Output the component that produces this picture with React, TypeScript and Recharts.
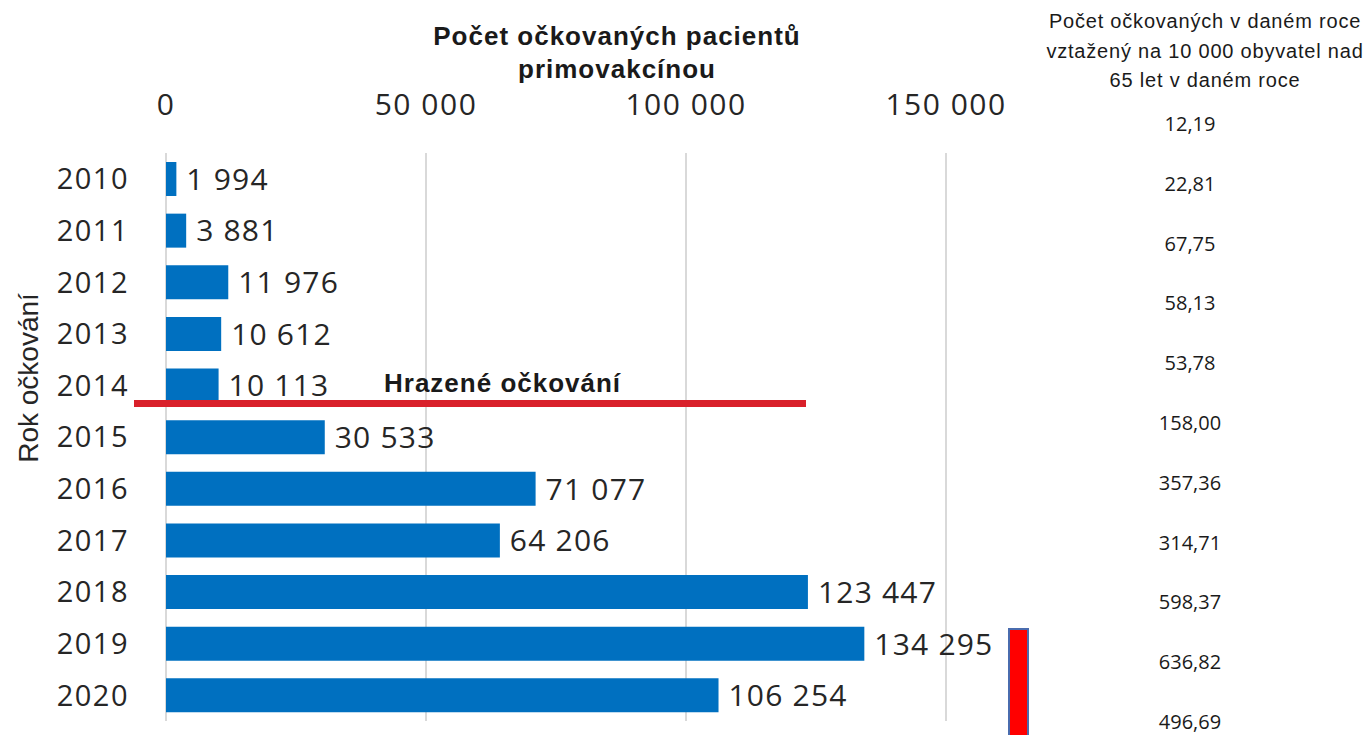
import { BarChart, Bar, XAxis, YAxis, CartesianGrid, LabelList } from 'recharts';

const years = ['2010', '2011', '2012', '2013', '2014', '2015', '2016', '2017', '2018', '2019', '2020'];
const patients = [1994, 3881, 11976, 10612, 10113, 30533, 71077, 64206, 123447, 134295, 106254];
const perTenThousand = ['12,19', '22,81', '67,75', '58,13', '53,78', '158,00', '357,36', '314,71', '598,37', '636,82', '496,69'];
const xTicks = [0, 50000, 100000, 150000];

const data = years.map((year, i) => ({ year, value: patients[i] }));

const fmt = (v: number) => String(v).replace(/\B(?=(\d{3})+(?!\d))/g, ' ');

const numFont = '"Open Sans", sans-serif';
const textFont = '"Liberation Sans", Arial, sans-serif';

function XTick({ x, payload }: any) {
  return (
    <text x={x} y={115} textAnchor="middle" fontSize={30} letterSpacing={1.5} fill="#262626" fontFamily={numFont}>
      {fmt(payload.value)}
    </text>
  );
}

function YTick({ y, payload }: any) {
  return (
    <text x={129} y={y} dy="0.36em" textAnchor="end" fontSize={29} letterSpacing={1.5} fill="#262626" fontFamily={numFont}>
      {payload.value}
    </text>
  );
}

function ValueLabel({ x, y, width, height, value }: any) {
  return (
    <text x={x + width + 10} y={y + height / 2} dy="0.36em" fontSize={30} letterSpacing={1.2} fill="#262626" fontFamily={numFont}>
      {fmt(value)}
    </text>
  );
}

export default function App() {
  return (
    <div style={{ position: 'absolute', left: 0, top: 0, width: 1364, height: 735, background: '#fff', overflow: 'hidden' }}>
      <BarChart
        width={1364}
        height={735}
        data={data}
        layout="vertical"
        margin={{ top: 113, right: 418, bottom: 14, left: 0 }}
      >
        <CartesianGrid horizontal={false} stroke="#d9d9d9" strokeWidth={2} />
        <XAxis
          type="number"
          orientation="top"
          domain={[0, 150000]}
          ticks={xTicks}
          height={40}
          axisLine={false}
          tickLine={false}
          tick={<XTick />}
          interval={0}
        />
        <YAxis
          type="category"
          dataKey="year"
          width={166}
          axisLine={false}
          tickLine={false}
          tick={<YTick />}
          interval={0}
        />
        <Bar dataKey="value" fill="#0070c0" barSize={34} isAnimationActive={false}>
          <LabelList dataKey="value" content={<ValueLabel />} />
        </Bar>
      </BarChart>

      <svg width={1364} height={735} style={{ position: 'absolute', left: 0, top: 0, pointerEvents: 'none' }}>
        {/* chart title */}
        <g fontFamily={textFont} fontWeight="bold" fontSize={26} letterSpacing={1} fill="#1a1a1a" textAnchor="middle">
          <text x={617} y={45}>Počet očkovaných pacientů</text>
          <text x={617} y={78}>primovakcínou</text>
        </g>

        {/* axis title */}
        <text
          x={28}
          y={378}
          transform="rotate(-90 28 378)"
          textAnchor="middle"
          dy="0.35em"
          fontFamily={textFont}
          fontSize={28}
          fill="#262626"
        >
          Rok očkování
        </text>

        {/* reimbursement threshold */}
        <line x1={134} x2={806} y1={403.5} y2={403.5} stroke="#d9202a" strokeWidth={7} />
        <text x={384} y={392} fontFamily={textFont} fontWeight="bold" fontSize={26} letterSpacing={1} fill="#1a1a1a">
          Hrazené očkování
        </text>

        {/* right column */}
        <g fontFamily={textFont} fontSize={20} letterSpacing={0.8} fill="#1a1a1a" textAnchor="middle">
          <text x={1205} y={28}>Počet očkovaných v daném roce</text>
          <text x={1205} y={58}>vztažený na 10 000 obyvatel nad</text>
          <text x={1205} y={87}>65 let v daném roce</text>
        </g>
        <g fontFamily={numFont} fontSize={20} fill="#1a1a1a" textAnchor="middle">
          {perTenThousand.map((v, i) => (
            <text key={v} x={1190} y={131 + i * 59.8}>
              {v}
            </text>
          ))}
        </g>

        {/* cropped neighbouring bar */}
        <rect x={1009} y={629} width={19} height={120} fill="#ff0000" stroke="#4a6cae" strokeWidth={2} />
      </svg>
    </div>
  );
}
